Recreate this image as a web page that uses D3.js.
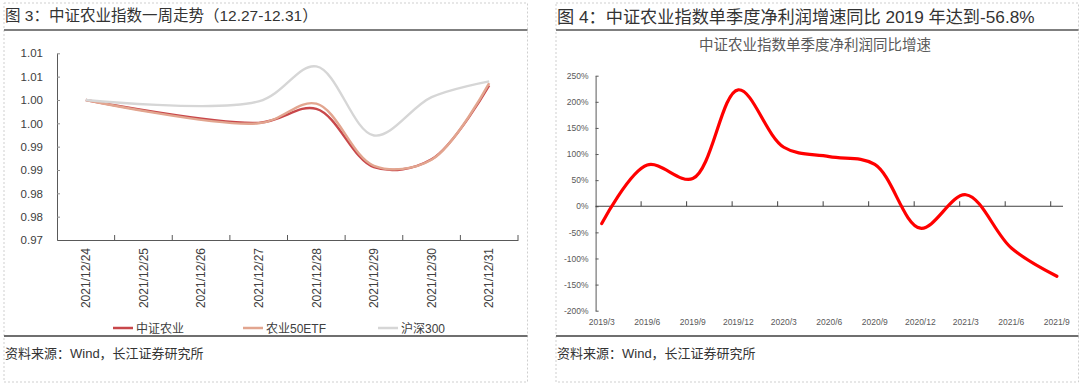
<!DOCTYPE html>
<html>
<head>
<meta charset="utf-8">
<script src="https://cdn.jsdelivr.net/npm/d3@7"></script>
<style>
  body { margin: 0; background: #fff; }
  text { font-family: "Liberation Sans", Arial, "Noto Sans CJK SC", sans-serif; }
</style>
</head>
<body>
<svg id="chart" width="1080" height="385"></svg>
<script>
// ---- left: one-week index trend ----
var weekDates = ["2021/12/24", "2021/12/25", "2021/12/26", "2021/12/27", "2021/12/28", "2021/12/29", "2021/12/30", "2021/12/31"];
var zzny  = [1.0000, null, null, 0.9951, 0.9981, 0.9856, 0.9873, 1.0031];
var ny50  = [1.0000, null, null, 0.9950, 0.9992, 0.9859, 0.9872, 1.0036];
var hs300 = [1.0000, null, null, 0.9997, 1.0072, 0.9924, 1.0006, 1.0040];
var weekSeriesNames = ["中证农业", "农业50ETF", "沪深300"];
var weekTicks = [0.970, 0.975, 0.980, 0.985, 0.990, 0.995, 1.000, 1.005, 1.010];
var weekTickLabels = ["0.97", "0.98", "0.98", "0.99", "0.99", "1.00", "1.00", "1.01", "1.01"];

// ---- right: quarterly net profit growth ----
var quarters = ["2019/3", "2019/6", "2019/9", "2019/12", "2020/3", "2020/6", "2020/9", "2020/12", "2021/3", "2021/6", "2021/9"];
var profitGrowth = [-33, 79, 53, 223, 113, 95, 80, -42, 22, -80, -134];
var growthTicks = [-200, -150, -100, -50, 0, 50, 100, 150, 200, 250];

var svg = d3.select("#chart");
var axisColor = "#595959";

// panel frames
function panel(x0, x1, title, titleSize) {
  svg.append("rect")
      .attr("x", x0).attr("y", 3)
      .attr("width", x1 - x0).attr("height", 379)
      .attr("fill", "none")
      .attr("stroke", "#cfcfcf")
      .attr("stroke-dasharray", "2,2");
  svg.append("text")
      .attr("x", x0 + 1).attr("y", titleSize > 16 ? 23 : 21)
      .attr("font-size", titleSize + "px")
      .attr("fill", "#333")
      .text(title);
  svg.append("line")
      .attr("x1", x0).attr("x2", x1).attr("y1", 30).attr("y2", 30)
      .attr("stroke", "#7f7f7f").attr("stroke-width", 2);
  svg.append("line")
      .attr("x1", x0).attr("x2", x1).attr("y1", 336).attr("y2", 336)
      .attr("stroke", "#6f6f6f").attr("stroke-width", 2);
  svg.append("text")
      .attr("x", x0 + 1).attr("y", 358)
      .attr("font-size", "13px")
      .attr("fill", "#333")
      .text("资料来源：Wind，长江证券研究所");
}
panel(4, 527.5, "图 3：中证农业指数一周走势（12.27-12.31）", 15.5);
panel(556, 1078.5, "图 4：中证农业指数单季度净利润增速同比 2019 年达到-56.8%", 17.2);

// ================= left chart =================
var x = d3.scaleBand().domain(weekDates).range([57, 518]);
var y = d3.scaleLinear().domain([0.97, 1.01]).range([240, 53.3]);

var gy = svg.append("g")
    .attr("transform", "translate(57,0)")
    .call(d3.axisLeft(y)
      .tickValues(weekTicks)
      .tickFormat(function(d, i) { return weekTickLabels[i]; })
      .tickSizeInner(-3).tickSizeOuter(0).tickPadding(14));
gy.selectAll("text").attr("font-size", "11.5px").attr("fill", "#404040").attr("font-family", null);
gy.selectAll("line").attr("stroke", "#8c8c8c");
gy.select(".domain").attr("stroke", axisColor);

var gx = svg.append("g")
    .attr("transform", "translate(0,240)")
    .call(d3.axisBottom(x).tickSize(0).tickPadding(0));
gx.select(".domain").attr("stroke", axisColor);
gx.selectAll("text")
    .attr("transform", "rotate(-90)")
    .attr("x", -8).attr("y", 0).attr("dy", "0.35em")
    .attr("text-anchor", "end")
    .attr("font-size", "12px")
    .attr("font-family", null)
    .attr("fill", "#404040");
// category boundary ticks, pointing up
gx.selectAll(".bticks")
    .data(weekDates)
  .enter().append("line")
    .attr("x1", function(d) { return x(d) + x.bandwidth(); })
    .attr("x2", function(d) { return x(d) + x.bandwidth(); })
    .attr("y1", 0).attr("y2", -5)
    .attr("stroke", axisColor);

var weekColors = ["#c8474a", "#e2a58f", "#d6d6d6"];
var weekLine = d3.line().curve(d3.curveCatmullRom);
[zzny, ny50, hs300].forEach(function(vals, k) {
  var pts = weekDates
    .map(function(d, i) { return vals[i] == null ? null : [x(d) + x.bandwidth() / 2, y(vals[i])]; })
    .filter(function(p) { return p; });
  svg.append("path")
      .attr("d", weekLine(pts))
      .attr("fill", "none")
      .attr("stroke", weekColors[k])
      .attr("stroke-width", 2.4);
});

// legend
var legendX = [113, 243, 378];
var legend = svg.selectAll(".lg")
    .data(weekSeriesNames)
  .enter().append("g")
    .attr("transform", function(d, i) { return "translate(" + legendX[i] + ",328)"; });
legend.append("line")
    .attr("x1", 0).attr("x2", 20).attr("y1", 0).attr("y2", 0)
    .attr("stroke", function(d, i) { return weekColors[i]; })
    .attr("stroke-width", 2.5);
legend.append("text")
    .attr("x", 23).attr("dy", "0.38em")
    .attr("font-size", "12px")
    .attr("fill", "#404040")
    .text(function(d) { return d; });

// ================= right chart =================
var xq = d3.scalePoint().domain(quarters).range([595.6, 1063]).padding(0.135);
var yq = d3.scaleLinear().domain([-200, 250]).range([310.7, 75.7]);

svg.append("text")
    .attr("x", 815).attr("y", 50)
    .attr("text-anchor", "middle")
    .attr("font-size", "14.5px")
    .attr("fill", axisColor)
    .text("中证农业指数单季度净利润同比增速");

var gyq = svg.append("g")
    .attr("transform", "translate(595.6,0)")
    .call(d3.axisLeft(yq)
      .tickValues(growthTicks)
      .tickFormat(function(d) { return d + "%"; })
      .tickSizeInner(-3).tickSizeOuter(0).tickPadding(7));
gyq.selectAll("text").attr("font-size", "8.5px").attr("fill", axisColor).attr("font-family", null);
gyq.selectAll("line").attr("stroke", axisColor);
gyq.select(".domain").attr("stroke", axisColor);

// zero axis line
var zeroY = yq(0);
svg.append("line")
    .attr("x1", xq.range()[0]).attr("x2", xq.range()[1])
    .attr("y1", zeroY).attr("y2", zeroY)
    .attr("stroke", "#404040");
svg.selectAll(".qtick")
    .data(quarters.slice(1))
  .enter().append("line")
    .attr("x1", function(d) { return xq(d) - xq.step() * xq.padding(); })
    .attr("x2", function(d) { return xq(d) - xq.step() * xq.padding(); })
    .attr("y1", zeroY).attr("y2", zeroY - 5)
    .attr("stroke", "#404040");

svg.selectAll(".qlabel")
    .data(quarters)
  .enter().append("text")
    .attr("x", function(d) { return xq(d); })
    .attr("y", yq(-200) + 14)
    .attr("text-anchor", "middle")
    .attr("font-size", "8.5px")
    .attr("fill", axisColor)
    .text(function(d) { return d; });

svg.append("path")
    .attr("d", d3.line().curve(d3.curveCatmullRom)(quarters.map(function(d, i) { return [xq(d), yq(profitGrowth[i])]; })))
    .attr("fill", "none")
    .attr("stroke", "#ff0000")
    .attr("stroke-width", 3.2)
    .attr("stroke-linecap", "round");
</script>
</body>
</html>
